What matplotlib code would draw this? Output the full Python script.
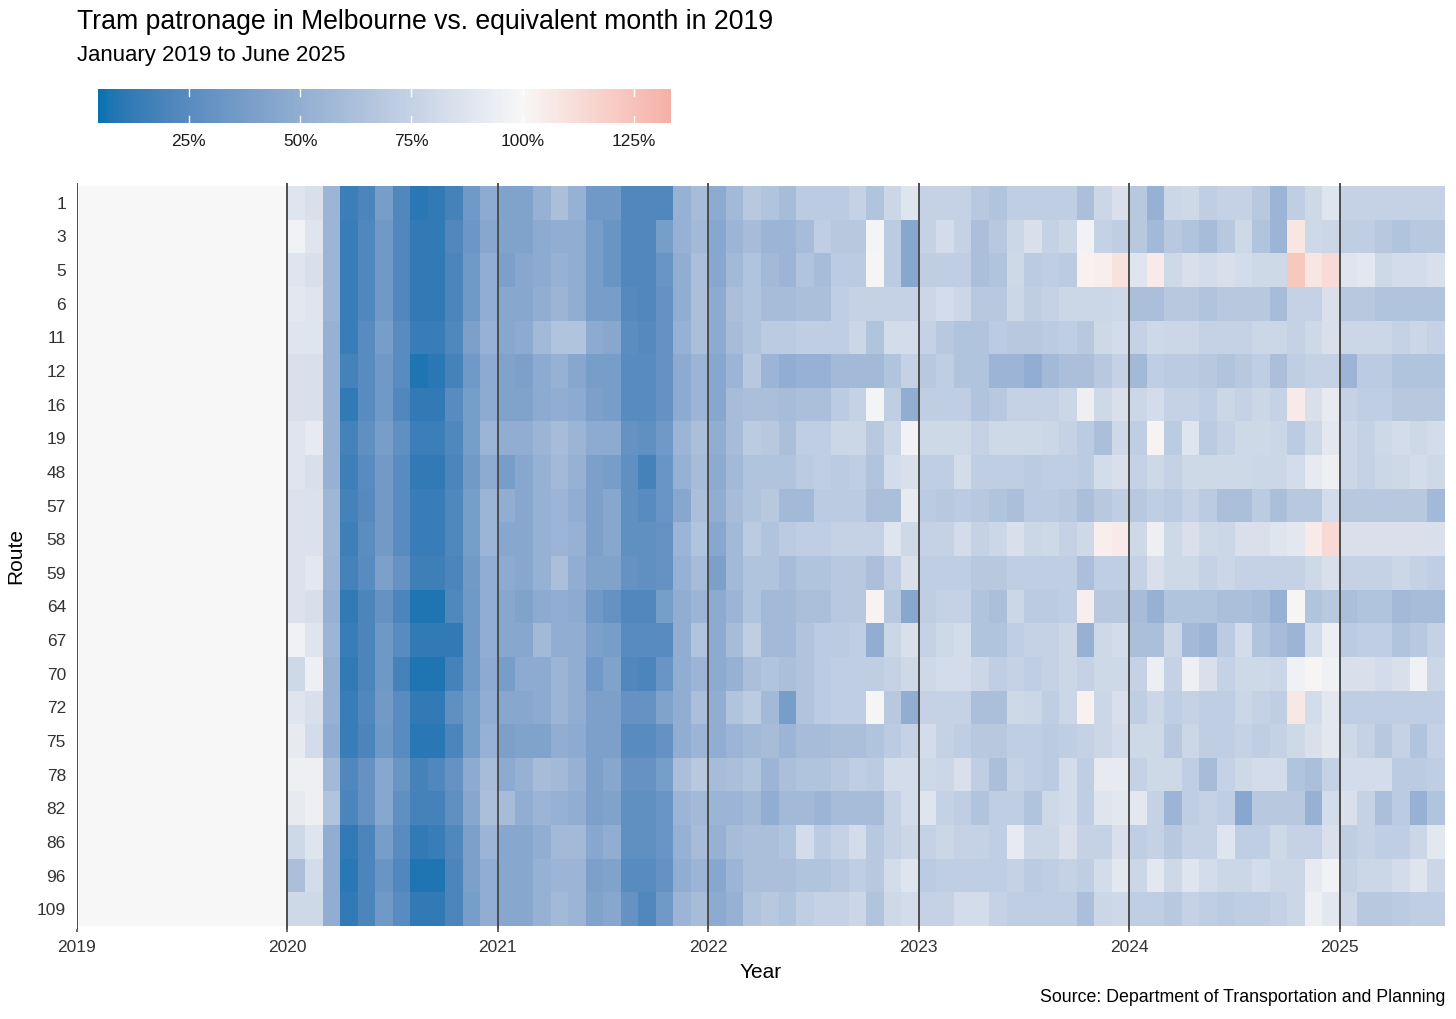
import numpy as np
import matplotlib
matplotlib.use("Agg")
import matplotlib.pyplot as plt
import matplotlib.colors as mcolors

plt.rcParams["font.family"] = ["Liberation Sans", "DejaVu Sans"]

# Patronage as % of the same month in 2019, Jan 2020 .. Jun 2025 (2019 itself = 100%)
route_1 = [88, 85, 55, 15, 20, 38, 22, 10, 12, 18, 35, 48,
           42, 42, 52, 62, 52, 35, 35, 22, 22, 22, 52, 60,
           48, 58, 68, 65, 60, 70, 70, 70, 75, 65, 78, 88,
           75, 75, 75, 68, 65, 72, 72, 72, 72, 62, 78, 85,
           68, 52, 78, 80, 72, 75, 75, 68, 55, 72, 80, 88,
           75, 75, 75, 75, 75, 75]
route_3 = [97, 88, 55, 14, 22, 35, 22, 12, 12, 22, 33, 45,
           42, 42, 48, 50, 50, 38, 32, 22, 22, 38, 52, 58,
           45, 55, 60, 55, 55, 60, 72, 68, 68, 98, 70, 45,
           75, 82, 75, 62, 68, 78, 85, 75, 78, 97, 75, 72,
           68, 58, 68, 65, 60, 68, 80, 65, 55, 108, 80, 78,
           72, 72, 68, 65, 68, 68]
route_5 = [88, 85, 55, 14, 22, 35, 22, 12, 12, 20, 35, 50,
           40, 45, 48, 52, 50, 38, 32, 22, 22, 32, 50, 62,
           45, 58, 65, 58, 55, 65, 60, 70, 70, 99, 70, 45,
           72, 72, 72, 62, 65, 80, 70, 72, 70, 103, 104, 110,
           88, 106, 80, 85, 82, 85, 82, 80, 80, 122, 108, 113,
           88, 90, 80, 82, 82, 85]
route_6 = [90, 88, 55, 14, 22, 35, 22, 12, 12, 20, 35, 50,
           45, 45, 50, 55, 50, 38, 38, 24, 22, 30, 50, 62,
           48, 62, 65, 60, 60, 62, 62, 72, 75, 75, 75, 75,
           78, 82, 78, 68, 68, 78, 72, 75, 78, 78, 78, 80,
           62, 62, 68, 68, 65, 68, 68, 68, 60, 75, 75, 85,
           68, 68, 65, 65, 65, 65]
route_11 = [88, 88, 52, 14, 25, 38, 25, 14, 14, 22, 40, 52,
            45, 48, 58, 65, 65, 48, 45, 26, 24, 30, 52, 62,
            48, 60, 65, 70, 70, 72, 72, 72, 78, 65, 82, 82,
            75, 68, 65, 65, 70, 68, 68, 70, 72, 68, 80, 82,
            75, 80, 78, 78, 75, 75, 75, 78, 78, 75, 80, 85,
            78, 78, 78, 75, 78, 75]
route_12 = [85, 85, 52, 18, 25, 35, 25, 8, 10, 18, 35, 48,
            42, 40, 48, 52, 45, 38, 38, 25, 25, 30, 48, 55,
            45, 55, 68, 55, 50, 52, 52, 58, 58, 58, 65, 75,
            68, 72, 65, 65, 55, 55, 50, 58, 62, 62, 68, 75,
            58, 72, 70, 70, 68, 65, 68, 72, 62, 72, 75, 75,
            55, 70, 70, 65, 65, 65]
route_16 = [85, 85, 52, 12, 25, 35, 22, 12, 12, 25, 38, 48,
            42, 42, 48, 50, 48, 40, 38, 25, 25, 30, 48, 55,
            45, 60, 62, 62, 60, 62, 62, 70, 75, 98, 72, 50,
            72, 72, 72, 65, 68, 75, 75, 75, 78, 95, 80, 85,
            78, 82, 75, 75, 72, 78, 75, 78, 75, 106, 85, 92,
            75, 72, 72, 68, 68, 68]
route_19 = [88, 92, 52, 18, 28, 38, 28, 15, 15, 22, 38, 55,
            50, 50, 55, 60, 55, 48, 48, 30, 28, 35, 55, 62,
            50, 60, 70, 68, 62, 72, 72, 78, 78, 68, 78, 97,
            80, 80, 80, 75, 80, 80, 80, 78, 75, 70, 62, 80,
            72, 102, 70, 88, 70, 75, 80, 80, 78, 70, 80, 90,
            78, 75, 80, 82, 80, 82]
route_48 = [88, 85, 52, 16, 25, 36, 25, 12, 12, 20, 36, 48,
            38, 45, 52, 58, 52, 40, 38, 28, 18, 32, 52, 60,
            48, 58, 65, 65, 65, 70, 72, 70, 72, 65, 82, 85,
            72, 72, 82, 72, 72, 72, 70, 72, 72, 70, 82, 85,
            75, 80, 75, 80, 80, 80, 80, 78, 78, 82, 92, 95,
            78, 75, 78, 80, 82, 80]
route_57 = [86, 86, 56, 18, 24, 36, 25, 14, 14, 22, 38, 55,
            50, 45, 52, 55, 50, 40, 45, 28, 25, 32, 45, 62,
            50, 60, 65, 68, 58, 58, 70, 70, 70, 62, 62, 92,
            70, 68, 70, 68, 65, 62, 70, 70, 68, 62, 68, 72,
            68, 72, 70, 75, 70, 62, 62, 70, 62, 68, 68, 82,
            68, 68, 68, 68, 68, 58]
route_58 = [86, 86, 56, 16, 26, 36, 25, 14, 14, 22, 38, 55,
            45, 45, 52, 55, 52, 40, 45, 28, 28, 30, 55, 65,
            45, 58, 70, 65, 70, 72, 72, 75, 75, 75, 88, 80,
            75, 75, 82, 75, 78, 85, 78, 80, 75, 80, 104, 106,
            80, 95, 80, 85, 80, 78, 85, 85, 88, 90, 106, 114,
            85, 85, 85, 85, 85, 85]
route_59 = [86, 90, 55, 18, 25, 40, 30, 16, 16, 20, 36, 50,
            48, 45, 52, 62, 50, 42, 42, 30, 28, 30, 52, 60,
            40, 58, 65, 65, 60, 65, 65, 68, 68, 62, 72, 85,
            72, 72, 72, 68, 68, 72, 72, 72, 72, 62, 72, 72,
            75, 85, 80, 80, 75, 78, 75, 75, 75, 75, 80, 85,
            75, 75, 75, 78, 75, 72]
route_64 = [86, 84, 52, 12, 20, 30, 20, 8, 8, 22, 35, 50,
            45, 42, 48, 50, 48, 35, 30, 22, 22, 38, 50, 55,
            48, 55, 65, 58, 58, 62, 62, 68, 68, 102, 68, 45,
            72, 75, 75, 65, 62, 78, 70, 70, 72, 104, 68, 68,
            60, 52, 65, 65, 65, 62, 62, 60, 52, 101, 65, 68,
            62, 65, 65, 58, 60, 60]
route_67 = [96, 88, 55, 14, 20, 34, 25, 12, 12, 12, 35, 50,
            45, 45, 58, 50, 50, 40, 38, 25, 25, 25, 50, 65,
            48, 60, 72, 58, 58, 65, 70, 70, 72, 50, 78, 85,
            75, 80, 82, 65, 65, 72, 75, 75, 78, 52, 80, 82,
            62, 62, 78, 58, 55, 70, 82, 65, 60, 55, 82, 94,
            70, 72, 72, 65, 68, 75]
route_70 = [80, 95, 52, 12, 20, 34, 18, 8, 8, 18, 35, 48,
            38, 48, 48, 55, 50, 35, 42, 22, 20, 32, 50, 55,
            48, 52, 62, 65, 62, 65, 70, 72, 72, 72, 75, 80,
            80, 82, 82, 78, 72, 75, 72, 75, 78, 75, 80, 80,
            75, 94, 75, 95, 85, 75, 80, 80, 78, 96, 101, 96,
            85, 85, 82, 85, 96, 78]
route_72 = [88, 85, 52, 14, 22, 36, 25, 12, 12, 28, 38, 50,
            45, 45, 48, 55, 50, 40, 40, 30, 30, 42, 50, 62,
            50, 65, 70, 58, 38, 65, 70, 72, 72, 99, 68, 50,
            75, 75, 75, 62, 62, 80, 78, 72, 78, 103, 78, 85,
            72, 78, 72, 75, 72, 72, 78, 75, 72, 107, 82, 90,
            72, 72, 72, 72, 72, 72]
route_75 = [92, 82, 50, 14, 20, 34, 25, 10, 10, 20, 38, 52,
            40, 42, 42, 50, 48, 40, 40, 25, 25, 30, 50, 55,
            50, 55, 58, 60, 55, 60, 60, 62, 62, 65, 70, 75,
            82, 75, 72, 68, 68, 72, 72, 70, 72, 75, 78, 82,
            80, 80, 68, 78, 72, 72, 75, 72, 75, 80, 85, 90,
            80, 75, 68, 75, 65, 75]
route_78 = [95, 95, 58, 22, 30, 45, 32, 18, 22, 30, 48, 60,
            48, 52, 60, 58, 52, 40, 45, 30, 30, 38, 62, 68,
            60, 62, 65, 55, 62, 65, 65, 68, 72, 70, 82, 82,
            80, 78, 85, 72, 62, 75, 72, 70, 82, 72, 92, 92,
            75, 80, 80, 72, 60, 75, 80, 82, 82, 65, 62, 75,
            82, 82, 82, 70, 70, 72]
route_82 = [92, 95, 65, 20, 30, 45, 28, 18, 18, 28, 45, 62,
            60, 50, 55, 52, 50, 40, 42, 28, 28, 32, 55, 58,
            55, 55, 58, 50, 58, 58, 55, 60, 60, 60, 75, 82,
            88, 75, 72, 65, 72, 72, 65, 80, 82, 72, 88, 90,
            90, 75, 55, 72, 75, 72, 45, 68, 68, 68, 52, 82,
            85, 75, 62, 70, 52, 65]
route_86 = [80, 88, 50, 12, 20, 38, 25, 12, 14, 22, 40, 55,
            45, 45, 50, 58, 58, 45, 50, 28, 28, 32, 52, 60,
            52, 60, 62, 62, 65, 82, 70, 75, 82, 68, 75, 78,
            75, 78, 75, 75, 72, 92, 78, 78, 85, 75, 75, 85,
            72, 75, 68, 75, 75, 88, 72, 72, 80, 75, 75, 85,
            72, 75, 72, 72, 78, 90]
route_96 = [62, 82, 50, 10, 20, 32, 22, 8, 8, 20, 40, 50,
            45, 45, 52, 55, 55, 40, 42, 25, 25, 30, 50, 55,
            45, 55, 62, 62, 62, 65, 65, 68, 72, 68, 82, 88,
            70, 72, 72, 72, 72, 75, 70, 72, 75, 72, 82, 90,
            78, 90, 80, 88, 82, 78, 78, 82, 78, 78, 92, 97,
            75, 78, 78, 82, 88, 78]
route_109 = [80, 80, 50, 12, 20, 35, 25, 12, 12, 20, 38, 50,
             45, 45, 52, 58, 55, 42, 45, 30, 22, 35, 55, 60,
             48, 52, 65, 68, 65, 72, 75, 75, 78, 65, 80, 82,
             75, 75, 82, 82, 75, 72, 72, 72, 72, 62, 78, 80,
             72, 72, 68, 75, 72, 70, 72, 72, 75, 78, 95, 90,
             78, 68, 68, 70, 72, 72]

routes = ["1", "3", "5", "6", "11", "12", "16", "19", "48", "57", "58",
          "59", "64", "67", "70", "72", "75", "78", "82", "86", "96", "109"]
series = [route_1, route_3, route_5, route_6, route_11, route_12, route_16,
          route_19, route_48, route_57, route_58, route_59, route_64, route_67,
          route_70, route_72, route_75, route_78, route_82, route_86, route_96,
          route_109]
baseline_2019 = [100] * 12
years = [2019, 2020, 2021, 2022, 2023, 2024, 2025]
legend_ticks = [25, 50, 75, 100, 125]

LOW, MID, HIGH = "#0571b0", "#f7f7f7", "#ca0020"
VMIN, VMAX = 4.6, 133.3

# ---- Lab interpolation, like ggplot's gradient2 ----
M = np.array([[0.4124, 0.3576, 0.1805],
              [0.2126, 0.7152, 0.0722],
              [0.0193, 0.1192, 0.9505]])
WHITE = np.array([0.95047, 1.0, 1.08883])


def to_lab(c):
    rgb = np.array(mcolors.to_rgb(c))
    lin = np.where(rgb <= 0.04045, rgb / 12.92, ((rgb + 0.055) / 1.055) ** 2.4)
    xyz = M @ lin / WHITE
    f = np.where(xyz > 0.008856, np.cbrt(xyz), 7.787 * xyz + 16 / 116)
    return np.array([116 * f[1] - 16, 500 * (f[0] - f[1]), 200 * (f[1] - f[2])])


def from_lab(lab):
    fy = (lab[0] + 16) / 116
    f = np.array([fy + lab[1] / 500, fy, fy - lab[2] / 200])
    xyz = np.where(f ** 3 > 0.008856, f ** 3, (f - 16 / 116) / 7.787) * WHITE
    lin = np.linalg.solve(M, xyz)
    lin = np.clip(lin, 0, 1)
    rgb = np.where(lin <= 0.0031308, 12.92 * lin, 1.055 * lin ** (1 / 2.4) - 0.055)
    return np.clip(rgb, 0, 1)


lab_lo, lab_mid, lab_hi = to_lab(LOW), to_lab(MID), to_lab(HIGH)
half = max(100 - VMIN, VMAX - 100)
cols = []
for v in np.linspace(VMIN, VMAX, 256):
    r = 0.5 + (v - 100) / (2 * half)
    if r < 0.5:
        t = r / 0.5
        cols.append(from_lab(lab_lo + (lab_mid - lab_lo) * t))
    else:
        t = (r - 0.5) / 0.5
        cols.append(from_lab(lab_mid + (lab_hi - lab_mid) * t))
cmap = mcolors.ListedColormap(cols)

grid = np.array([baseline_2019 + s for s in series], dtype=float)
n_rows, n_cols = grid.shape

fig = plt.figure(figsize=(14.56, 10.19), dpi=100)
W, H = 1456, 1019

# heatmap axes (pixel box 77..1445 x 183..929)
ax = fig.add_axes([77 / W, 1 - 929 / H, (1445 - 77) / W, (929 - 183) / H])
mesh = ax.pcolormesh(np.arange(n_cols + 1), np.arange(n_rows + 1), grid,
                     cmap=cmap, vmin=VMIN, vmax=VMAX, shading="flat")
pad = 3 / 33.64
ax.set_xlim(0, n_cols)
ax.set_ylim(n_rows + pad, -pad)
for i in range(len(years)):
    ax.axvline(12 * i, color="#4d4d4d", lw=1.4, zorder=3)
for s in ax.spines.values():
    s.set_visible(False)
ax.set_xticks([12 * i for i in range(len(years))])
ax.set_xticklabels([str(y) for y in years])
ax.set_yticks(np.arange(n_rows) + 0.5)
ax.set_yticklabels(routes)
ax.tick_params(axis="x", length=2, width=1.2, color="#4d4d4d",
               labelsize=12.5, labelcolor="#333333", pad=6)
ax.tick_params(axis="y", length=0, labelsize=12.5, labelcolor="#333333", pad=8)
ax.set_xlabel("Year", fontsize=15, labelpad=6)
ax.set_ylabel("Route", fontsize=15, labelpad=8)

# colour bar legend
cax = fig.add_axes([98 / W, 1 - 123 / H, (671 - 98) / W, (123 - 89) / H])
cb = fig.colorbar(mesh, cax=cax, orientation="horizontal")
cb.outline.set_visible(False)
cb.set_ticks(legend_ticks)
cb.set_ticklabels([f"{t}%" for t in legend_ticks])
cax.tick_params(length=0, labelsize=12.4, labelcolor="#1a1a1a", pad=8)
for t in legend_ticks:
    cax.axvline(t, ymin=0, ymax=0.2, color="white", lw=1)
    cax.axvline(t, ymin=0.8, ymax=1, color="white", lw=1)

fig.text(77 / W, 1 - 22 / H, "Tram patronage in Melbourne vs. equivalent month in 2019",
         fontsize=19.2, va="center", ha="left")
fig.text(77 / W, 1 - 55 / H, "January 2019 to June 2025",
         fontsize=15.9, va="center", ha="left")
fig.text(1445 / W, 1 - 998 / H, "Source: Department of Transportation and Planning",
         fontsize=12.8, va="center", ha="right")

fig.savefig("out.png", dpi=100)
